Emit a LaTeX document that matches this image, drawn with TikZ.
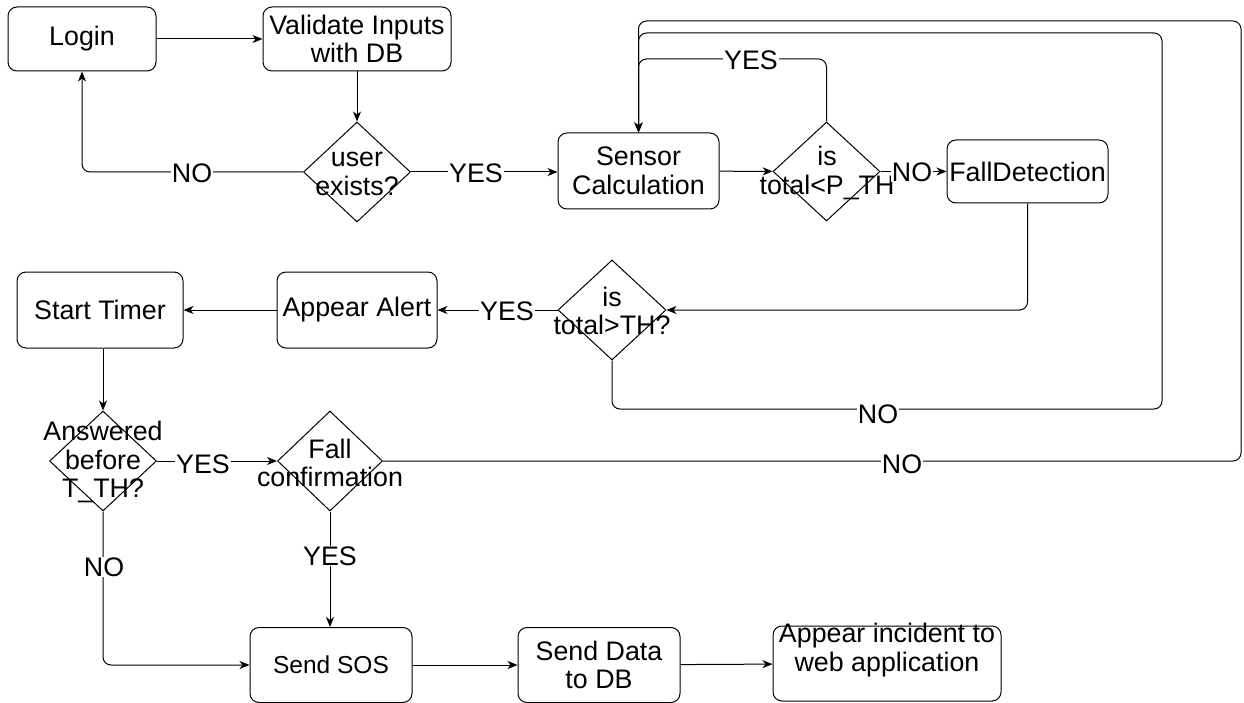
\documentclass[tikz,border=0pt]{standalone}
\usepackage{fontspec}
\setmainfont{Liberation Sans}
\usetikzlibrary{shapes.geometric,arrows.meta}
\begin{document}
\begin{tikzpicture}[x=1pt,y=-1pt,
  every node/.style={font=\fontsize{26.8}{28.5}\selectfont},
  box/.style={draw, rounded corners=9pt, align=center, inner sep=0pt, line width=1pt},
  dia/.style={draw, diamond, inner sep=0pt, line width=1pt},
  txt/.style={align=center, inner sep=0pt},
  lbl/.style={fill=white, inner sep=1pt},
  conn/.style={line width=1pt, rounded corners=8pt, -{Stealth[length=10pt,width=8pt,inset=3pt]}},
  ]
\useasboundingbox (0,0) rectangle (1244,703);

% nodes
\node[box, minimum width=148, minimum height=64] (login) at (82,39) {Login};
\node[box, minimum width=188, minimum height=64] (valid) at (357,39) {Validate Inputs\\with DB};
\node[dia, minimum width=107, minimum height=100] (ue) at (357,172) {};
\node[txt] (uet) at (357,174) {user\\exists?};
\node[box, minimum width=161, minimum height=76] (sens) at (638.5,171) {Sensor\\Calculation};
\node[dia, minimum width=107, minimum height=99] (pth) at (826.5,171.5) {};
\node[txt] (ptht) at (827,173) {is\\total<P\_TH};
\node[box, minimum width=161, minimum height=63] (fall) at (1027.5,171.5) {FallDetection};
\node[dia, minimum width=108, minimum height=100] (th) at (612,310) {};
\node[txt] (tht) at (612,311) {is\\total>TH?};
\node[box, minimum width=160, minimum height=76] (alert) at (357,310) {Appear Alert};
\node[box, minimum width=166, minimum height=76] (timer) at (100,310) {Start Timer};
\node[dia, minimum width=107, minimum height=100] (ans) at (103,461) {};
\node[txt] (anst) at (103,462) {Answered\\before\\T\_TH?};
\node[dia, minimum width=105, minimum height=100] (fc) at (330,461) {};
\node[txt] (fct) at (330,463) {Fall\\confirmation};
\node[box, minimum width=162, minimum height=75, font=\fontsize{24.5}{27}\selectfont] (sos) at (331,665) {Send SOS};
\node[box, minimum width=162, minimum height=75] (sd) at (599,665) {Send Data\\to DB};
\node[box, minimum width=228, minimum height=75] (inc) at (887,663.5) {};
\node[txt] (inct) at (887,650) {Appear incident to\\web application};

% corner coordinates
\coordinate (c1) at (826.5,59);
\coordinate (r2) at (1162,409);
\coordinate (t2) at (1162,33);
\coordinate (r3) at (1241,461);
\coordinate (t3) at (1241,21);

% connectors
\draw[conn] (login) -- (valid);
\draw[conn] (valid) -- (ue);
\draw[conn] (ue.west) -| (login.south);
\draw[conn] (ue.east) -- (ue.east -| sens.west);
\draw[conn] (sens) -- (pth);
\draw[conn] (pth.north) -- (c1) -| (sens.north);
\draw[conn] (pth.east) -- (fall.west);
\draw[conn] (fall.south) |- (th.east);
\draw[conn] (th.west) -- (alert.east);
\draw[conn] (alert) -- (timer);
\draw[conn] (th.south) |- (r2) -- (t2) -| (sens.north);
\draw[conn] (fc.east) -- (r3) -- (t3) -| (sens.north);
\draw[conn] (ans.north |- timer.south) -- (ans.north);
\draw[conn] (ans.east) -- (fc.west);
\draw[conn] (fc.south) -- (fc.south |- sos.north);
\draw[conn] (ans.south) |- (sos.west);
\draw[conn] (sos) -- (sd);
\draw[conn] (sd) -- (inc);

% labels
\node[lbl] (l1) at (192,173) {NO};
\node[lbl] (l2) at (476,173) {YES};
\node[lbl] (l3) at (751,60) {YES};
\node[lbl] (l4) at (912,172) {NO};
\node[lbl] (l5) at (507,311) {YES};
\node[lbl] (l6) at (878,414) {NO};
\node[lbl] (l7) at (902,464) {NO};
\node[lbl] (l8) at (203,464) {YES};
\node[lbl] (l9) at (330,556) {YES};
\node[lbl] (l10) at (104,567) {NO};
\end{tikzpicture}
\end{document}
